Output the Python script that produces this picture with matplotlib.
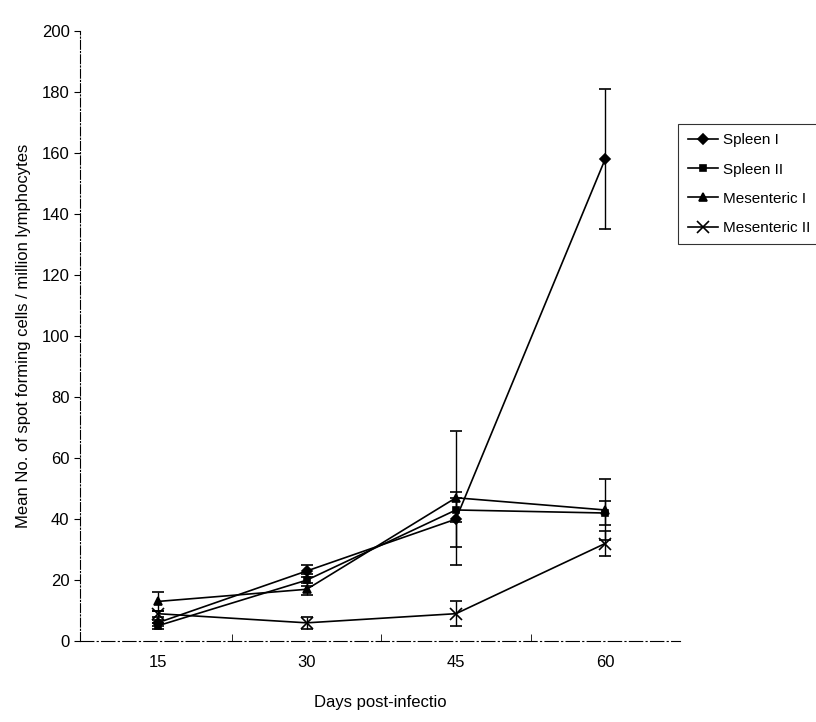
import numpy as np
import matplotlib
matplotlib.use('Agg')
import matplotlib.pyplot as plt
from matplotlib.lines import Line2D

plt.rcParams['font.family'] = ['Liberation Sans Narrow', 'Liberation Sans', 'DejaVu Sans']

days = ['15', '30', '45', '60']
spleen_1 = [6, 23, 40, 158]
spleen_1_err = [1, 2, 9, 23]
spleen_2 = [5, 20, 43, 42]
spleen_2_err = [1, 2, 4, 4]
mesenteric_1 = [13, 17, 47, 43]
mesenteric_1_err = [3, 2, 22, 10]
mesenteric_2 = [9, 6, 9, 32]
mesenteric_2_err = [1, 2, 4, 4]

series = [
    ('Spleen I', spleen_1, spleen_1_err, 'D', 5),
    ('Spleen II', spleen_2, spleen_2_err, 's', 5),
    ('Mesenteric I', mesenteric_1, mesenteric_1_err, '^', 6),
    ('Mesenteric II', mesenteric_2, mesenteric_2_err, 'x', 8),
]

fig = plt.figure(figsize=(8.16, 7.22), dpi=100)
ax = fig.add_axes([0.098, 0.112, 0.735, 0.845])
x = np.arange(len(days))

handles = []
for name, y, err, marker, ms in series:
    ax.errorbar(x, y, yerr=err, color='black', lw=1.2, marker=marker, ms=ms,
                mew=1.2, capsize=4, elinewidth=1)
    handles.append(Line2D([], [], color='black', lw=1.2, marker=marker, ms=ms,
                          mew=1.2, label=name))

ax.set_xlim(-0.52, 3.5)
ax.set_ylim(0, 200)
ax.set_yticks(np.arange(0, 201, 20))
ax.set_xticks(x)
ax.set_xticklabels(days)
ax.set_xticks([0.5, 1.5, 2.5], minor=True)
ax.tick_params(axis='x', which='major', length=0, labelsize=12, pad=10)
ax.tick_params(axis='x', which='minor', length=5, direction='in')
ax.tick_params(axis='y', labelsize=12, direction='out', length=4)
for s in ['top', 'right']:
    ax.spines[s].set_visible(False)
ax.spines['left'].set_linestyle((0, (8, 2, 1, 2)))
ax.spines['bottom'].set_linestyle((0, (12, 3, 1, 3)))

ax.set_xlabel('Days post-infectio', fontsize=12, labelpad=18)
ax.set_ylabel('Mean No. of spot forming cells / million lymphocytes', fontsize=12, labelpad=8)

leg = ax.legend(handles=handles, loc='upper left', bbox_to_anchor=(0.985, 0.86), fontsize=11,
                frameon=True, fancybox=False, edgecolor='black', handlelength=2.0,
                borderpad=0.6, labelspacing=1.0, handletextpad=0.3)
leg.get_frame().set_linewidth(0.8)

fig.savefig('out.png', dpi=100)
